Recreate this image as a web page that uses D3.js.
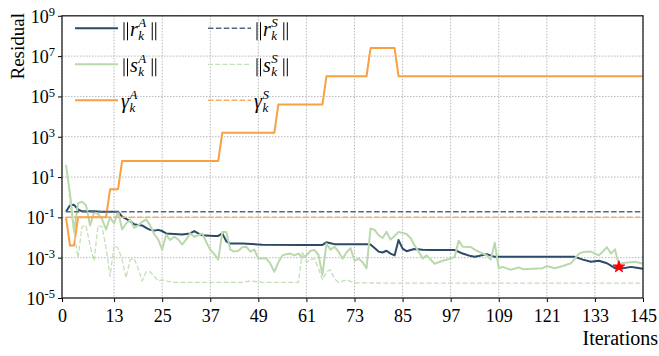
<!DOCTYPE html>
<html>
<head>
<meta charset="utf-8">
<script src="https://cdn.jsdelivr.net/npm/d3@7"></script>
<style>
  body { margin: 0; background: #fff; }
</style>
</head>
<body>
<div class="chart"></div>
<script>
// [iteration, value] pairs
var rA = [[1,0.19],[2,0.4],[3,0.42],[4,0.25],[5,0.2],[8,0.2],[10,0.19],[14,0.19],[15,0.11],[16,0.085],[17,0.065],[18,0.045],
  [19,0.042],[20,0.04],[21,0.03],[22,0.024],[23,0.022],[24,0.024],[25,0.021],[26,0.016],[28,0.015],[30,0.014],[31,0.015],
  [32,0.016],[33,0.021],[34,0.016],[35,0.013],[38,0.012],[39,0.012],[40,0.016],[41,0.0065],[42,0.005],[45,0.005],[50,0.0044],
  [60,0.0043],[65,0.0043],[66,0.0058],[67,0.0052],[68,0.0047],[76,0.0047],[77,0.0045],[78,0.003],[79,0.002],[80,0.0018],
  [81,0.0022],[82,0.0016],[83,0.0013],[84,0.0075],[85,0.0028],[86,0.0021],[87,0.0024],[88,0.0027],[90,0.0025],[92,0.0024],
  [98,0.0024],[100,0.0016],[102,0.0012],[103,0.0011],[104,0.0012],[106,0.0015],[108,0.0011],[110,0.0011],[128,0.0011],
  [130,0.0008],[132,0.00063],[134,0.0007],[136,0.00053],[137,0.0004],[138,0.0003],[139,0.00033],[140,0.0003],[142,0.00035],
  [143,0.00033],[145,0.00028]];

var sA = [[1,40],[2,1.5],[3,0.02],[4,0.5],[5,0.6],[6,0.4],[7,0.04],[8,0.18],[9,0.15],[10,0.08],[11,0.025],[12,0.1],[13,0.05],
  [14,0.2],[15,0.025],[16,0.05],[17,0.075],[18,0.03],[19,0.04],[20,0.06],[21,0.08],[22,0.04],[23,0.015],[24,0.008],[25,0.0025],
  [26,0.014],[27,0.0075],[28,0.011],[29,0.008],[30,0.0045],[31,0.008],[32,0.016],[33,0.011],[34,0.013],[35,0.016],[36,0.006],
  [37,0.0025],[38,0.0015],[39,0.0008],[40,0.019],[41,0.019],[42,0.0025],[43,0.002],[44,0.0022],[45,0.0033],[46,0.0035],
  [47,0.002],[48,0.0025],[49,0.0009],[51,0.00093],[52,0.0005],[53,0.0002],[54,0.0006],[55,0.0013],[56,0.0015],[57,0.0016],
  [58,0.0013],[59,0.0016],[60,0.001],[61,0.0013],[62,0.0022],[63,0.0024],[64,0.0014],[65,0.00014],[66,0.005],[67,0.0025],
  [68,0.0035],[69,0.002],[70,0.0009],[71,0.0018],[72,0.003],[73,0.0007],[74,0.0009],[75,0.0006],[76,0.0003],[77,0.028],
  [78,0.024],[79,0.013],[80,0.0095],[81,0.019],[82,0.008],[83,0.012],[84,0.019],[86,0.015],[87,0.0095],[88,0.004],[89,0.002],
  [90,0.0009],[91,0.0013],[93,0.0005],[95,0.0007],[97,0.0009],[98,0.0011],[99,0.007],[100,0.0035],[102,0.0034],[103,0.0025],
  [104,0.002],[106,0.0013],[107,0.0008],[108,0.0055],[109,0.0003],[110,0.00035],[112,0.00025],[114,0.00033],[115,0.00027],
  [120,0.0003],[121,0.00039],[123,0.0003],[125,0.00039],[127,0.00053],[128,0.0009],[129,0.0016],[130,0.0019],[132,0.002],
  [134,0.0013],[136,0.0033],[137,0.0016],[138,0.0026],[139,0.00043],[140,0.00055],[143,0.00063],[145,0.0005]];

var gammaA = [[1,0.1],[2,0.004],[3,0.004],[4,0.1],[11,0.1],[12,2.5],[14,2.5],[15,63],[39,63],[40,1600],[53,1600],
  [54,4e4],[65,4e4],[66,1e6],[76,1e6],[77,2.5e7],[83,2.5e7],[84,1e6],[145,1e6]];

var rS = [[1,0.19],[145,0.19]];

var sS = [[1,40],[2,0.5],[3,0.02],[4,0.001],[5,0.035],[6,0.04],[7,0.004],[8,0.0007],[9,0.04],[10,0.035],[11,0.003],
  [12,0.00012],[13,0.004],[14,0.003],[15,0.0008],[16,0.0001],[17,0.0008],[18,0.0009],[19,0.0003],[20,0.00007],[21,0.0002],
  [22,0.0002],[23,0.00012],[24,0.00007],[25,0.00008],[26,0.00007],[28,0.00006],[45,0.00006],[47,0.00007],[50,0.00006],
  [59,0.00006],[60,0.002],[61,0.0006],[62,0.0008],[63,0.0009],[64,0.0003],[65,0.00008],[66,0.0002],[67,0.00025],
  [68,0.00009],[69,0.00006],[71,0.00008],[73,0.000057],[80,0.000055],[145,0.000055]];

var gammaS = [[1,0.1],[145,0.1]];

var best = [[139,0.00035]];

var xTicks = [0,13,25,37,49,61,73,85,97,109,121,133,145];
var yExps = [-5,-3,-1,1,3,5,7,9];

var SERIF = "'Liberation Serif'";

var width = 659, height = 356;
var margin = {top: 15.8, right: 16, bottom: 58, left: 62};
var w = width - margin.left - margin.right;
var h = height - margin.top - margin.bottom;

var svg = d3.select(".chart").append("svg")
    .attr("width", width)
    .attr("height", height);

var g = svg.append("g")
    .attr("transform", "translate(" + margin.left + "," + margin.top + ")");

var x = d3.scaleLinear().domain([0, 145]).range([0, w]);
var y = d3.scaleLog().domain([1e-5, 1e9]).range([h, 0]);

// grid
g.append("g")
    .selectAll("line").data(xTicks).enter().append("line")
    .attr("x1", d => x(d)).attr("x2", d => x(d))
    .attr("y1", 0).attr("y2", h)
    .attr("stroke", "#b0b0b0").attr("stroke-width", 0.9).attr("stroke-dasharray", "1.5,1.5");
g.append("g")
    .selectAll("line").data(yExps).enter().append("line")
    .attr("x1", 0).attr("x2", w)
    .attr("y1", d => y(Math.pow(10, d))).attr("y2", d => y(Math.pow(10, d)))
    .attr("stroke", "#b0b0b0").attr("stroke-width", 0.9).attr("stroke-dasharray", "1.5,1.5");

var line = d3.line()
    .x(function(d) { return x(d[0]); })
    .y(function(d) { return y(d[1]); });

var series = [
  {name: "rA", data: rA, color: "#2b4a68", width: 2, dash: null},
  {name: "sA", data: sA, color: "#b9d9ad", width: 2, dash: null},
  {name: "gA", data: gammaA, color: "#f9a040", width: 2, dash: null},
  {name: "rS", data: rS, color: "#4e6886", width: 1.5, dash: "5.5,2.4"},
  {name: "sS", data: sS, color: "#c4e0b8", width: 1.3, dash: "5,2.2"},
  {name: "gS", data: gammaS, color: "#f9ad5e", width: 1.5, dash: "5.5,2.4"}
];

g.selectAll("path.series")
    .data(series)
    .enter().append("path")
    .attr("class", "series")
    .attr("d", d => line(d.data))
    .attr("fill", "none")
    .attr("stroke", d => d.color)
    .attr("stroke-width", d => d.width)
    .attr("stroke-dasharray", d => d.dash)
    .attr("stroke-linejoin", "round");

g.selectAll("path.star")
    .data(best)
    .enter().append("path")
    .attr("d", d3.symbol().type(d3.symbolStar).size(42))
    .attr("transform", d => "translate(" + x(d[0]) + "," + y(d[1]) + ")")
    .attr("fill", "#ff0000").attr("stroke", "#ff0000").attr("stroke-width", 1);

// axes
var xAxis = g.append("g")
    .attr("transform", "translate(0," + h + ")")
    .call(d3.axisBottom(x).tickValues(xTicks).tickSize(4).tickPadding(7).tickSizeOuter(0));

var yAxis = g.append("g")
    .call(d3.axisLeft(y).tickValues(yExps.map(e => Math.pow(10, e))).tickSize(4).tickPadding(3).tickSizeOuter(0).tickFormat(""));
yAxis.selectAll(".tick").each(function(d) {
  var t = d3.select(this).select("text").attr("dy", "0.36em");
  t.append("tspan").text("10");
  t.append("tspan").attr("font-size", 12.5).attr("dy", "-0.55em").text(String(Math.round(Math.log10(d))));
});

g.selectAll(".tick text").attr("font-size", 18).style("font-family", SERIF).attr("fill", "#000");
g.selectAll(".domain").remove();
g.selectAll(".tick line").attr("stroke", "#000").attr("stroke-width", 1);

// frame
g.append("rect").attr("width", w).attr("height", h)
    .attr("fill", "none").attr("stroke", "#222").attr("stroke-width", 1.3);

svg.append("text")
    .attr("transform", "translate(24,13) rotate(-90)")
    .attr("text-anchor", "end")
    .style("font-family", SERIF)
    .attr("font-size", 19)
    .text("Residual");

svg.append("text")
    .attr("x", 658).attr("y", 345)
    .attr("text-anchor", "end")
    .style("font-family", SERIF)
    .attr("font-size", 20)
    .text("Iterations");

// legend
var legendItems = [
  {s: series[0], sym: "r", sup: "A", norm: true, col: 0, row: 0},
  {s: series[1], sym: "s", sup: "A", norm: true, col: 0, row: 1},
  {s: series[2], sym: "\u03b3", sup: "A", norm: false, col: 0, row: 2},
  {s: series[3], sym: "r", sup: "S", norm: true, col: 1, row: 0},
  {s: series[4], sym: "s", sup: "S", norm: true, col: 1, row: 1},
  {s: series[5], sym: "\u03b3", sup: "S", norm: false, col: 1, row: 2}
];
var colX = [75, 208], rowY = [28.3, 64.3, 100.3];

// double bar drawn as two thin vertical strokes
function normBar(sel, bx, by) {
  sel.append("line").attr("x1", bx).attr("x2", bx).attr("y1", by - 14).attr("y2", by + 4)
      .attr("stroke", "#000").attr("stroke-width", 1);
  sel.append("line").attr("x1", bx + 3.5).attr("x2", bx + 3.5).attr("y1", by - 14).attr("y2", by + 4)
      .attr("stroke", "#000").attr("stroke-width", 1);
}

function itext(sel, tx, ty, size, str) {
  return sel.append("text").attr("x", tx).attr("y", ty)
      .style("font-family", SERIF).style("font-style", "italic")
      .attr("font-size", size).text(str);
}

var legend = svg.append("g");
legendItems.forEach(function(it) {
  var lx = colX[it.col], ly = rowY[it.row];
  legend.append("line")
      .attr("x1", lx).attr("x2", lx + 43).attr("y1", ly).attr("y2", ly)
      .attr("stroke", it.s.color).attr("stroke-width", it.s.width)
      .attr("stroke-dasharray", it.s.dash);
  var cx = lx + 49, by = ly + 8;
  if (it.norm) {
    normBar(legend, cx, by);
    cx += 6;
  } else {
    cx -= 3;
  }
  var s = itext(legend, cx, by, 20, it.sym);
  cx += s.node().getComputedTextLength() + 0.5;
  var a = itext(legend, cx, by - 9, 13, it.sup);
  var k = itext(legend, cx, by + 4, 13, "k");
  cx += Math.max(a.node().getComputedTextLength(), k.node().getComputedTextLength()) + 6;
  if (it.norm) {
    normBar(legend, cx, by);
  }
});
</script>
</body>
</html>
